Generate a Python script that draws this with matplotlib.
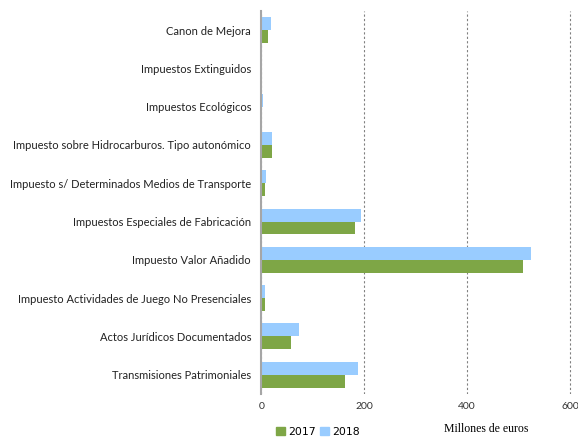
import numpy as np
import matplotlib.pyplot as plt
from matplotlib.patches import Patch

# categories, bottom to top
categorias = ['Transmisiones Patrimoniales',
              'Actos Jurídicos Documentados',
              'Impuesto Actividades de Juego No Presenciales',
              'Impuesto Valor Añadido',
              'Impuestos Especiales de Fabricación',
              'Impuesto s/ Determinados Medios de Transporte',
              'Impuesto sobre Hidrocarburos. Tipo autonómico',
              'Impuestos Ecológicos',
              'Impuestos Extinguidos',
              'Canon de Mejora']
valores_2017 = [162, 57, 7, 509, 182, 7, 20, 1.5, 0.3, 12.5]
valores_2018 = [188, 73, 7, 525, 194, 9, 20.5, 2, 0.3, 18.5]
ticks_x = [0, 200, 400, 600]

verde = '#7EA646'
azul = '#99CCFF'

fig = plt.figure(figsize=(5.78, 4.40), dpi=100)
ax = fig.add_axes([0.4524, 0.105, 0.5426, 0.870])

y = np.arange(len(categorias))
h = 0.338
ax.barh(y - h / 2, valores_2017, height=h, color=verde)
ax.barh(y + h / 2, valores_2018, height=h, color=azul)

ax.set_xlim(0, 610)
ax.set_ylim(-0.5, len(categorias) - 0.5)
ax.set_xticks(ticks_x)
ax.set_xticklabels([str(t) for t in ticks_x], fontsize=7.5, family='Lato', color='#333333')
ax.set_yticks(y)
ax.set_yticklabels(categorias, fontsize=8, family='Lato', color='#222222')
ax.tick_params(axis='both', length=0)
ax.tick_params(axis='y', pad=7.5)
ax.tick_params(axis='x', pad=6)

for s in ['top', 'right', 'bottom']:
    ax.spines[s].set_visible(False)
ax.spines['left'].set_color('#A6A6A6')
ax.spines['left'].set_linewidth(1.5)
ax.grid(axis='x', linestyle=(0, (2, 2)), color='#808080', linewidth=0.8)
ax.set_axisbelow(True)

fig.legend(handles=[Patch(color=verde, label='2017'), Patch(color=azul, label='2018')],
           loc='center left', bbox_to_anchor=(0.470, 0.018), ncol=2, frameon=False,
           fontsize=7.8, handlelength=0.8, handleheight=0.8, handletextpad=0.3,
           columnspacing=0.4, borderaxespad=0)
fig.text(0.768, 0.024, 'Millones de euros', fontsize=8.5, family='Liberation Serif',
         ha='left', va='center')

fig.savefig('out.png', dpi=100)
